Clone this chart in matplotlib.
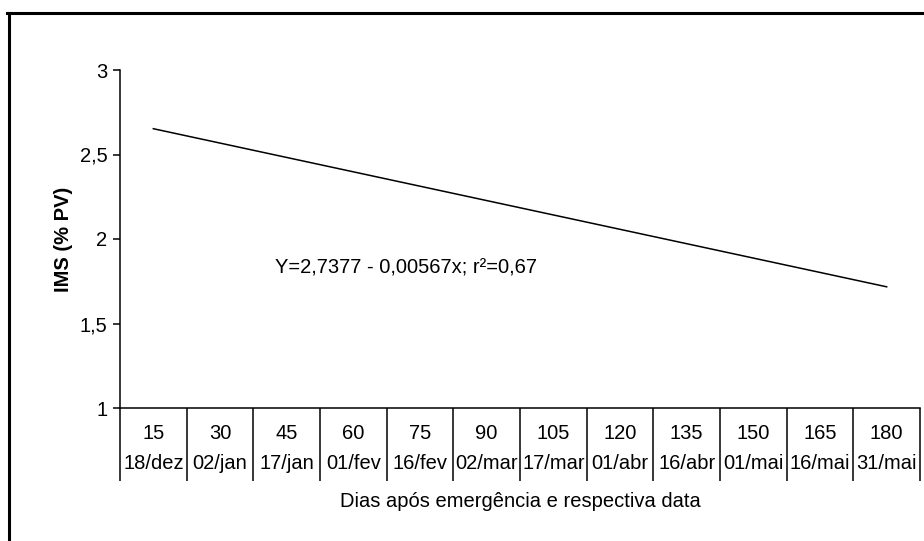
import matplotlib
matplotlib.use("Agg")
import matplotlib.pyplot as plt
import matplotlib.transforms as mtransforms
from matplotlib.lines import Line2D
import numpy as np

plt.rcParams['font.family'] = ['Liberation Sans', 'DejaVu Sans']

# days after emergence and the matching calendar date
dias = [15, 30, 45, 60, 75, 90, 105, 120, 135, 150, 165, 180]
datas = ['18/dez', '02/jan', '17/jan', '01/fev', '16/fev', '02/mar',
         '17/mar', '01/abr', '16/abr', '01/mai', '16/mai', '31/mai']

# fitted regression: Y = a + b*x
a, b, r2 = 2.7377, -0.00567, 0.67
dias_reta = [15, 180]

FS = 14.5
W, H = 924, 541
fig = plt.figure(figsize=(W / 100, H / 100), dpi=100)
ax = fig.add_axes([120 / W, 1 - 408 / H, 800 / W, 338 / H])

n = len(dias)
pos = np.arange(n) + 0.5
xr = [pos[dias.index(d)] for d in dias_reta]
yr = [a + b * d for d in dias_reta]
ax.plot(xr, yr, color='black', lw=1.1)

ax.set_xlim(0, n)
ax.set_ylim(1, 3)
ax.set_yticks([1, 1.5, 2, 2.5, 3])
ax.set_yticklabels(['1', '1,5', '2', '2,5', '3'])
ax.tick_params(axis='y', direction='out', length=5, width=1.1, labelsize=FS, pad=4)
ax.set_xticks([])
for s in ['top', 'right']:
    ax.spines[s].set_visible(False)
for s in ['left', 'bottom']:
    ax.spines[s].set_linewidth(1.1)

ax.set_ylabel('IMS (% PV)', fontsize=FS, fontweight='bold', labelpad=5)

# two-row category table under the x axis
trans = mtransforms.blended_transform_factory(ax.transData, ax.transAxes)
ax.vlines(np.arange(n + 1), -0.216, 0, transform=trans, colors='black',
          lw=1.1, clip_on=False)
for p, d, dt in zip(pos, dias, datas):
    ax.text(p, -0.074, str(d), transform=trans, ha='center', va='center', fontsize=FS)
    ax.text(p, -0.163, dt, transform=trans, ha='center', va='center', fontsize=FS)

ax.text(0.5, -0.278, 'Dias após emergência e respectiva data', transform=ax.transAxes,
        ha='center', va='center', fontsize=FS)

eq = 'Y=2,7377 - 0,00567x; r²=0,67'
ax.text(2.33, 1.83, eq, ha='left', va='center', fontsize=FS)

# outer frame of the chart area (left and top edges)
fig.add_artist(Line2D([8.5 / W, 8.5 / W], [0, 1 - 12.5 / H], color='black', lw=2.2,
                      transform=fig.transFigure))
fig.add_artist(Line2D([7.5 / W, 1], [1 - 12.5 / H, 1 - 12.5 / H], color='black', lw=2.2,
                      transform=fig.transFigure))

fig.savefig('out.png', dpi=100)
